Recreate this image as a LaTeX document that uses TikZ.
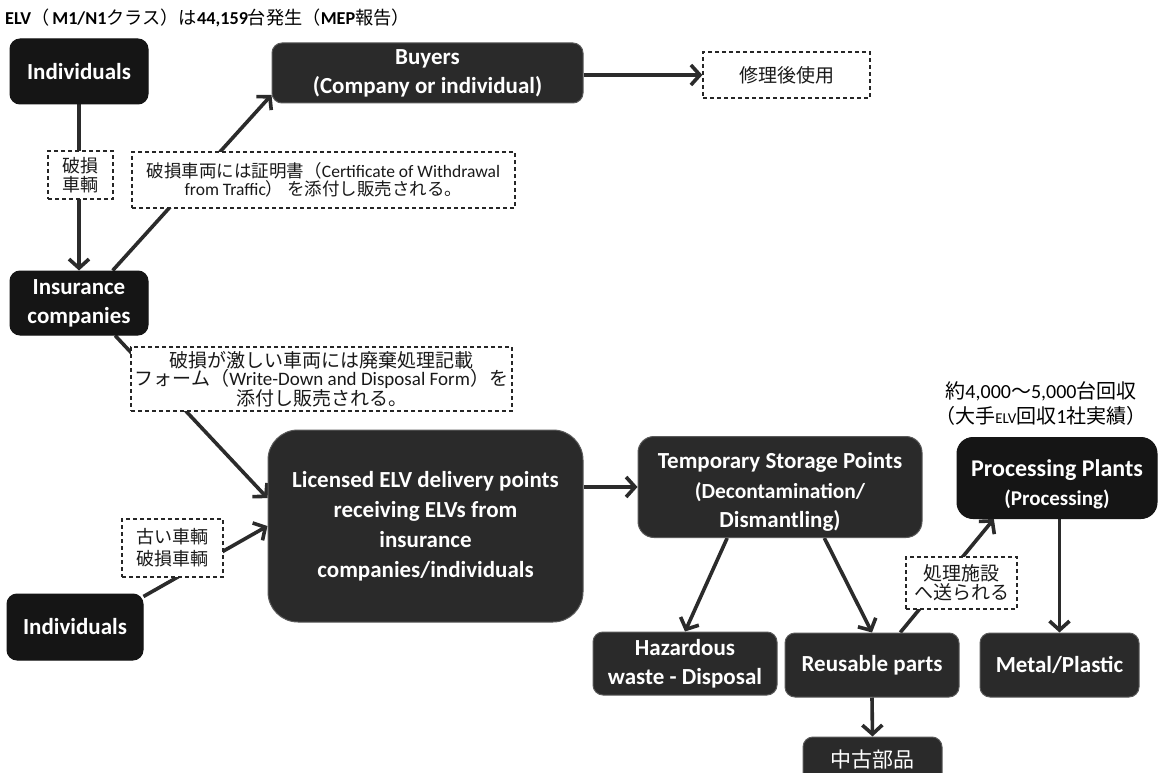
\documentclass[tikz,border=0pt]{standalone}
\usepackage{fontspec}
\setmainfont{Carlito}
\newfontfamily\jp{Noto Sans CJK JP}
\usetikzlibrary{arrows.meta,calc}
\newcommand{\jtxt}[1]{{\jp #1}}
\newcommand{\fs}[2]{\fontsize{#1}{#2}\selectfont}
\pgfdeclarelayer{back}
\pgfdeclarelayer{lines}
\pgfsetlayers{back,lines,main}
\definecolor{boxfill}{HTML}{2A2A2A}
\definecolor{boxdark}{HTML}{151515}
\definecolor{boxrim}{HTML}{5A5A5A}
\definecolor{linecol}{HTML}{2B2B2B}
\tikzset{
  darkbox/.style={rectangle, rounded corners=10pt, fill=boxfill, draw=boxrim,
    line width=1pt, text=white, align=center, inner sep=0pt,
    font=\fs{23}{29}\bfseries},
  blackbox/.style={darkbox, fill=boxdark, draw=boxdark},
  boxtext/.style={text=white, align=center, inner sep=0pt},
  notebox/.style={rectangle, draw=black!85, dashed, dash pattern=on 4pt off 3pt,
    line width=1.3pt, fill=white, align=center, inner sep=0pt, text=black!90},
  flow/.style={draw=linecol, line width=3.6pt,
    -{Straight Barb[length=9pt,width=20pt,line width=3.6pt]}},
}
\begin{document}
\begin{tikzpicture}[x=1pt,y=-1pt]
\begin{pgfonlayer}{back}
  \fill[white] (0,0) rectangle (1160,773);
\end{pgfonlayer}
\useasboundingbox (0,0) rectangle (1160,773);

% heading
\node[anchor=west, inner sep=0pt, font=\fs{18.2}{20}] (title) at (5,18)
  {\textbf{ELV}\jtxt{（}\,\textbf{M1/N1}\jtxt{クラス）は}\textbf{44,159}\jtxt{台発生（}\textbf{MEP}\jtxt{報告）}};

% main boxes
\node[blackbox, minimum width=138pt, minimum height=65pt] (ind1) at (79,71.5) {Individuals};
\node[darkbox, minimum width=311pt, minimum height=60pt] (buyers) at (427.5,73) {Buyers\\(Company or individual)};
\node[blackbox, minimum width=138pt, minimum height=64pt] (ins) at (79,303) {Insurance\\companies};
\node[darkbox, rounded corners=30pt, minimum width=315pt, minimum height=192pt,
  font=\fs{23}{30}\bfseries] (lic) at (425.5,526)
  {Licensed ELV delivery points\\receiving ELVs from\\insurance\\companies/individuals};
\node[blackbox, minimum width=136pt, minimum height=66pt] (ind2) at (75,627) {Individuals};
\node[darkbox, rounded corners=16pt, minimum width=284pt, minimum height=101pt] (temp) at (780,487) {};
\node[boxtext, font=\fs{23}{29}\bfseries] (tempT) at ($(temp.center)+(0,5)$)
  {Temporary Storage Points\\[1pt]\fs{21.5}{25}\bfseries (Decontamination/\\Dismantling)};
\node[blackbox, rounded corners=16pt, minimum width=200pt, minimum height=81pt] (proc) at (1057,478) {};
\node[boxtext, font=\fs{24}{29}\bfseries] (procT) at ($(proc.center)+(0,6)$)
  {Processing Plants\\\fs{21}{28}\bfseries (Processing)};
\node[darkbox, minimum width=184pt, minimum height=63pt] (haz) at (685,663.5) {Hazardous\\waste - Disposal};
\node[darkbox, minimum width=174pt, minimum height=64pt] (reuse) at (872,665) {Reusable parts};
\node[darkbox, minimum width=159pt, minimum height=64pt] (metal) at (1059.5,665) {Metal/Plastic};
\node[darkbox, minimum width=139pt, minimum height=46pt, font=\fs{21}{24}\jp] (used) at (872.5,760) {中古部品};

% dashed notes
\node[notebox, minimum width=167pt, minimum height=46pt, font=\fs{19}{22}\jp] (repair) at (786.5,75) {修理後使用};
\node[notebox, minimum width=65pt, minimum height=48pt, font=\fs{18}{19}\jp] (dmg) at (80.5,175) {破損\\車輌};
\node[notebox, minimum width=383pt, minimum height=56pt, font=\fs{17.5}{18.5}] (cert) at (323.5,180)
  {\jtxt{破損車両には証明書（}Certificate of Withdrawal\\from Traffic\jtxt{） を添付し販売される。}};
\node[notebox, minimum width=381pt, minimum height=64pt, font=\fs{19}{18}] (wd) at (321.5,379)
  {\jtxt{破損が激しい車両には廃棄処理記載}\\\jtxt{フォーム（}Write-Down and Disposal Form\jtxt{）を}\\\jtxt{添付し販売される。}};
\node[notebox, minimum width=101pt, minimum height=58pt, font=\fs{18}{22}\jp] (old) at (172.5,548) {古い車輌\\破損車輌};
\node[notebox, minimum width=111pt, minimum height=52pt, font=\fs{19}{19}\jp] (send) at (961.5,583) {処理施設\\へ送られる};

% volume note above the processing plants
\node[inner sep=0pt, align=center, font=\fs{20}{25}] (vol) at (1041,404)
  {\jtxt{約}4,000\jtxt{～}5,000\jtxt{台回収}\\\jtxt{（大手}{\fontsize{15}{25}\selectfont ELV}\jtxt{回収}1\jtxt{社実績）}};

% connectors
\begin{pgfonlayer}{lines}
  \draw[flow] (ind1.south) -- (ins.north);
  \draw[flow] (ins.44) -- (buyers.188);
  \draw[flow] (buyers.east |- repair.west) -- (repair.west);
  \draw[flow] (ins.-42) -- (lic.170);
  \draw[flow] (ind2.24) -- (lic.west);
  \draw[flow] (lic.east |- temp.west) -- (temp.west);
  \draw[flow] (temp.224.5) -- (haz.north);
  \draw[flow] (temp.-49.7) -- (reuse.north);
  \draw[flow] (reuse.49) -- (proc.213);
  \draw[flow] (proc.south -| metal.north) -- (metal.north);
  \draw[flow] (reuse.south) -- (used.north);
\end{pgfonlayer}
\end{tikzpicture}
\end{document}
